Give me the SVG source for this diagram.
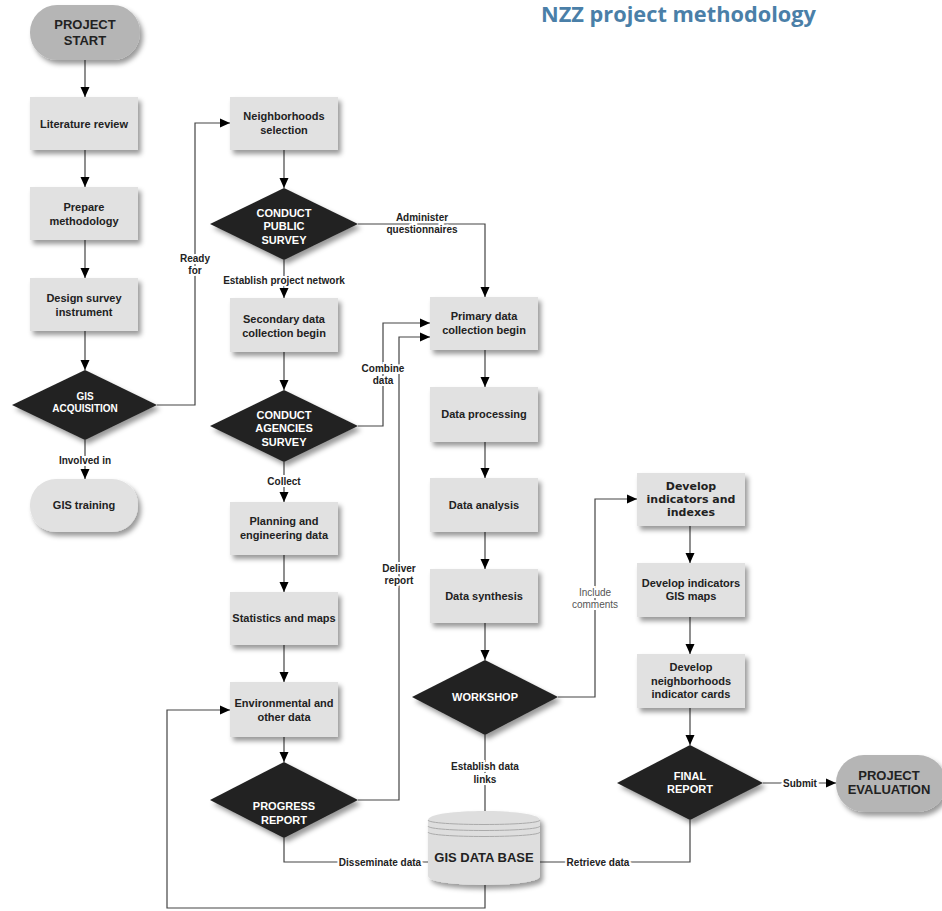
<svg xmlns="http://www.w3.org/2000/svg" width="942" height="911" viewBox="0 0 942 911">
<style>
.box{fill:#e1e1e1;filter:url(#sh)}
.dia{fill:#232323;filter:url(#sh)}
.term{fill:#b5b5b5;filter:url(#sh)}
.t{font-family:"Liberation Sans",Arial,sans-serif;font-weight:bold;font-size:11px;fill:#222;text-anchor:middle}
.tw{font-family:"Liberation Sans",Arial,sans-serif;font-weight:bold;font-size:11px;fill:#fff;text-anchor:middle}
.tv{font-family:"DejaVu Sans",Verdana,sans-serif;font-weight:bold;font-size:11px;fill:#222;text-anchor:middle}
.tt{font-family:"Liberation Sans",Arial,sans-serif;font-weight:bold;font-size:13px;fill:#222;text-anchor:middle}
.c{fill:none;stroke:#444;stroke-width:1.2}
.ca{fill:none;stroke:#444;stroke-width:1.2;marker-end:url(#ah)}
.lbl{font-family:"Liberation Sans",Arial,sans-serif;font-weight:bold;font-size:10px;fill:#222;text-anchor:middle;stroke:#fff;stroke-width:4;paint-order:stroke}
.lblr{font-family:"Liberation Sans",Arial,sans-serif;font-size:10px;fill:#555;text-anchor:middle;stroke:#fff;stroke-width:4;paint-order:stroke}
</style>
<defs>
<filter id="sh" x="-20%" y="-20%" width="150%" height="160%">
<feDropShadow dx="3" dy="4" stdDeviation="2.5" flood-color="#000" flood-opacity="0.4"/>
</filter>
<marker id="ah" markerUnits="userSpaceOnUse" markerWidth="10" markerHeight="10" refX="10" refY="5" orient="auto">
<path d="M0,0.5 L10,5 L0,9.5 z" fill="#000"/>
</marker>
</defs>
<rect width="942" height="911" fill="#fff"/>
<text x="541" y="22" font-family="'Open Sans','Noto Sans',sans-serif" font-weight="bold" font-size="21" fill="#4a7fa8" textLength="275" lengthAdjust="spacingAndGlyphs">NZZ project methodology</text>

<g id="connectors">
<path class="ca" d="M85,60 V97"/>
<path class="ca" d="M85,150 V187"/>
<path class="ca" d="M85,240 V278"/>
<path class="ca" d="M85,331 V370"/>
<path class="ca" d="M85,440 V479"/>
<path class="ca" d="M157,405 H195 V123 H230"/>
<path class="ca" d="M284,150 V188"/>
<path class="ca" d="M284,260 V298"/>
<path class="ca" d="M358,224 H485 V297"/>
<path class="ca" d="M284,352 V390"/>
<path class="ca" d="M358,426 H383 V323 H430"/>
<path class="ca" d="M284,462 V502"/>
<path class="ca" d="M284,555 V592"/>
<path class="ca" d="M284,645 V682"/>
<path class="ca" d="M284,737 V762"/>
<path class="ca" d="M358,800 H399 V337 H430"/>
<path class="ca" d="M485,350 V387"/>
<path class="ca" d="M485,442 V478"/>
<path class="ca" d="M485,532 V569"/>
<path class="ca" d="M485,623 V660"/>
<path class="ca" d="M558,697 H595 V499 H637"/>
<path class="ca" d="M690,526 V563"/>
<path class="ca" d="M690,617 V654"/>
<path class="ca" d="M690,708 V745"/>
<path class="ca" d="M763,783 H836"/>
<path class="c" d="M485,735 V814"/>
<path class="c" d="M284,838 V862 H428"/>
<path class="c" d="M540,862 H690 V820"/>
<path class="ca" d="M485,882 V908 H167 V710 H230"/>
<text class="lbl" x="85" y="464">Involved in</text>
<text class="lbl" x="195" y="262">Ready</text>
<text class="lbl" x="195" y="274">for</text>
<text class="lbl" x="284" y="284">Establish project network</text>
<text class="lbl" x="422" y="221">Administer</text>
<text class="lbl" x="422" y="233">questionnaires</text>
<text class="lbl" x="383" y="372">Combine</text>
<text class="lbl" x="383" y="384">data</text>
<text class="lbl" x="284" y="485">Collect</text>
<text class="lbl" x="399" y="572">Deliver</text>
<text class="lbl" x="399" y="584">report</text>
<text class="lblr" x="595" y="596">Include</text>
<text class="lblr" x="595" y="608">comments</text>
<text class="lbl" x="800" y="787">Submit</text>
<text class="lbl" x="485" y="770">Establish data</text>
<text class="lbl" x="485" y="783">links</text>
<text class="lbl" x="380" y="866">Disseminate data</text>
<text class="lbl" x="598" y="866">Retrieve data</text>
</g>

<g id="project-start"><rect class="term" x="30" y="5" width="110" height="55" rx="27"/><text class="tt" x="85" y="29">PROJECT</text><text class="tt" x="85" y="45">START</text></g>
<g id="literature-review"><rect class="box" x="30" y="97" width="108" height="53"/><text class="t" x="84" y="128">Literature review</text></g>
<g id="prepare-methodology"><rect class="box" x="30" y="187" width="108" height="53"/><text class="t" x="84" y="211">Prepare</text><text class="t" x="84" y="225">methodology</text></g>
<g id="design-survey"><rect class="box" x="30" y="278" width="108" height="53"/><text class="t" x="84" y="302">Design survey</text><text class="t" x="84" y="316">instrument</text></g>
<g id="gis-acquisition"><path class="dia" d="M85,370 L157,405 L85,440 L12,405 z"/><text class="tw" x="85" y="400" style="font-size:10px">GIS</text><text class="tw" x="85" y="412" style="font-size:10px">ACQUISITION</text></g>
<g id="gis-training"><rect class="box" x="30" y="479" width="108" height="53" rx="26"/><text class="t" x="84" y="509">GIS training</text></g>

<g id="neighborhoods-selection"><rect class="box" x="230" y="97" width="108" height="53"/><text class="t" x="284" y="120">Neighborhoods</text><text class="t" x="284" y="134">selection</text></g>
<g id="conduct-public-survey"><path class="dia" d="M284,188 L358,224 L284,260 L210,224 z"/><text class="tw" x="284" y="217">CONDUCT</text><text class="tw" x="284" y="230">PUBLIC</text><text class="tw" x="284" y="244">SURVEY</text></g>
<g id="secondary-data"><rect class="box" x="230" y="298" width="108" height="54"/><text class="t" x="284" y="323">Secondary data</text><text class="t" x="284" y="337">collection begin</text></g>
<g id="conduct-agencies-survey"><path class="dia" d="M284,390 L358,426 L284,462 L210,426 z"/><text class="tw" x="284" y="419">CONDUCT</text><text class="tw" x="284" y="432">AGENCIES</text><text class="tw" x="284" y="446">SURVEY</text></g>
<g id="planning-engineering"><rect class="box" x="230" y="502" width="108" height="53"/><text class="t" x="284" y="525">Planning and</text><text class="t" x="284" y="539">engineering data</text></g>
<g id="statistics-maps"><rect class="box" x="230" y="592" width="108" height="53"/><text class="t" x="284" y="622">Statistics and maps</text></g>
<g id="environmental-data"><rect class="box" x="230" y="682" width="108" height="55"/><text class="t" x="284" y="707">Environmental and</text><text class="t" x="284" y="721">other data</text></g>
<g id="progress-report"><path class="dia" d="M284,762 L358,800 L284,838 L210,800 z"/><text class="tw" x="284" y="810">PROGRESS</text><text class="tw" x="284" y="824">REPORT</text></g>

<g id="primary-data"><rect class="box" x="430" y="297" width="108" height="53"/><text class="t" x="484" y="320">Primary data</text><text class="t" x="484" y="334">collection begin</text></g>
<g id="data-processing"><rect class="box" x="430" y="387" width="108" height="55"/><text class="t" x="484" y="418">Data processing</text></g>
<g id="data-analysis"><rect class="box" x="430" y="478" width="108" height="54"/><text class="t" x="484" y="509">Data analysis</text></g>
<g id="data-synthesis"><rect class="box" x="430" y="569" width="108" height="54"/><text class="t" x="484" y="600">Data synthesis</text></g>
<g id="workshop"><path class="dia" d="M485,660 L558,697 L485,735 L412,697 z"/><text class="tw" x="485" y="701">WORKSHOP</text></g>
<g id="gis-database">
<path d="M428,820 C428,808 540,808 540,820 V876 C540,888 428,888 428,876 z" fill="#dedede" filter="url(#sh)"/>
<path d="M428,820 C428,826 540,826 540,820 M428,826 C428,832 540,832 540,826 M428,832 C428,838 540,838 540,832" fill="none" stroke="#aaa" stroke-width="1"/>
<text class="tt" x="484" y="862">GIS DATA BASE</text>
</g>

<g id="develop-indicators-indexes"><rect class="box" x="637" y="473" width="108" height="53"/><text class="tv" x="691" y="490">Develop</text><text class="tv" x="691" y="503">indicators and</text><text class="tv" x="691" y="516">indexes</text></g>
<g id="develop-gis-maps"><rect class="box" x="637" y="563" width="108" height="54"/><text class="t" x="691" y="587">Develop indicators</text><text class="t" x="691" y="600">GIS maps</text></g>
<g id="develop-cards"><rect class="box" x="637" y="654" width="108" height="54"/><text class="t" x="691" y="671">Develop</text><text class="t" x="691" y="685">neighborhoods</text><text class="t" x="691" y="698">indicator cards</text></g>
<g id="final-report"><path class="dia" d="M690,745 L763,783 L690,820 L617,783 z"/><text class="tw" x="690" y="780">FINAL</text><text class="tw" x="690" y="793">REPORT</text></g>
<g id="project-evaluation"><rect class="term" x="836" y="755" width="110" height="57" rx="28"/><text class="tt" x="889" y="780">PROJECT</text><text class="tt" x="889" y="794">EVALUATION</text></g>
</svg>
